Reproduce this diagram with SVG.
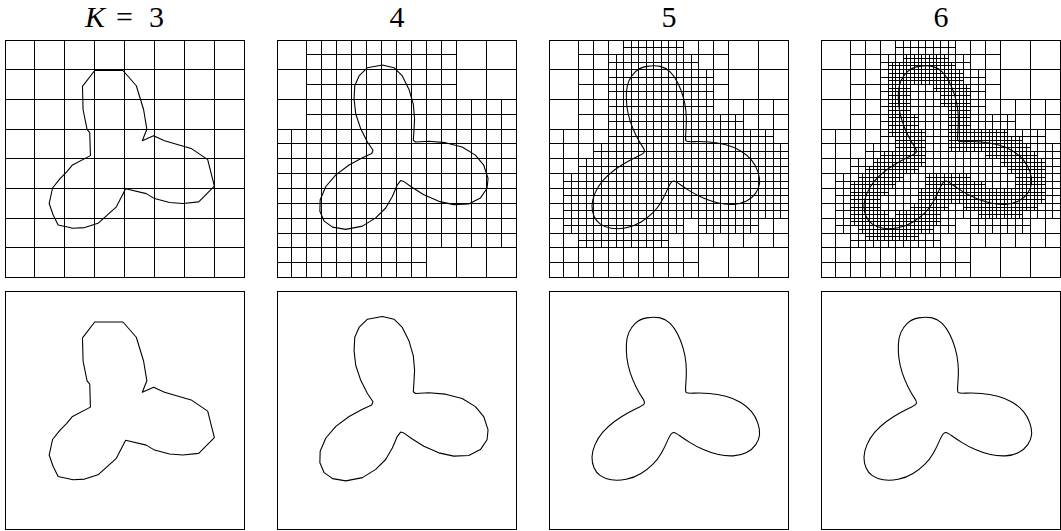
<svg xmlns="http://www.w3.org/2000/svg" width="1061" height="531" viewBox="0 0 1061 531">
<style>
.g{fill:none;stroke:#000;stroke-width:1;shape-rendering:crispEdges}
.c{fill:none;stroke:#000;stroke-width:1.1;stroke-linejoin:round}
.t{font-family:'Liberation Serif','DejaVu Serif',serif;font-size:30px;fill:#000}
</style>
<defs>
<clipPath id="r3"><path d="M30 0h150v60h-150zM30 60h210v30h-210zM0 90h240v120h-240zM0 210h150v30h-150z"/></clipPath>
<clipPath id="r4"><path d="M15 135h15v60h-15zM30 120h15v90h-15zM45 105h15v105h-15zM60 15h15v195h-15zM75 0h45v210h-45zM120 0h15v195h-15zM135 15h15v165h-15zM150 30h15v165h-15zM165 75h30v120h-30zM195 90h15v105h-15zM210 90h15v90h-15zM225 105h15v75h-15z"/></clipPath>
<clipPath id="r5"><path transform="scale(7.5)" d="M4 19h3v6h-3zM5 18h3v4h-3zM5 22h3v4h-3zM6 17h3v4h-3zM6 23h3v4h-3zM7 16h3v4h-3zM7 24h3v3h-3zM8 15h3v4h-3zM8 24h3v3h-3zM9 3h3v10h-3zM9 15h3v3h-3zM9 24h3v3h-3zM10 3h3v3h-3zM10 10h3v5h-3zM10 14h3v4h-3zM10 23h3v4h-3zM11 2h3v4h-3zM11 12h3v5h-3zM11 23h3v3h-3zM12 2h3v3h-3zM12 22h3v4h-3zM13 2h3v3h-3zM13 20h3v5h-3zM14 2h3v4h-3zM14 18h3v5h-3zM15 3h3v4h-3zM15 18h3v3h-3zM16 4h3v5h-3zM16 18h3v3h-3zM17 6h3v9h-3zM17 18h3v4h-3zM18 12h6v3h-6zM18 19h3v3h-3zM19 19h3v4h-3zM20 20h3v3h-3zM21 20h3v4h-3zM22 12h3v4h-3zM22 21h3v3h-3zM23 13h3v3h-3zM23 21h3v3h-3zM24 13h3v4h-3zM24 20h3v4h-3zM25 14h3v4h-3zM25 20h3v3h-3zM26 15h3v4h-3zM26 19h3v4h-3zM27 16h3v6h-3z"/></clipPath>
<path id="l3" d="M30 0V240M60 0V240M90 0V240M120 0V240M150 0V240M180 0V240M210 0V240M0 30H240M0 60H240M0 90H240M0 120H240M0 150H240M0 180H240M0 210H240"/>
<path id="l4" d="M15 0V240M45 0V240M75 0V240M105 0V240M135 0V240M165 0V240M195 0V240M225 0V240M0 15H240M0 45H240M0 75H240M0 105H240M0 135H240M0 165H240M0 195H240M0 225H240"/>
<path id="l5" d="M7.5 0V240M22.5 0V240M37.5 0V240M52.5 0V240M67.5 0V240M82.5 0V240M97.5 0V240M112.5 0V240M127.5 0V240M142.5 0V240M157.5 0V240M172.5 0V240M187.5 0V240M202.5 0V240M217.5 0V240M232.5 0V240M0 7.5H240M0 22.5H240M0 37.5H240M0 52.5H240M0 67.5H240M0 82.5H240M0 97.5H240M0 112.5H240M0 127.5H240M0 142.5H240M0 157.5H240M0 172.5H240M0 187.5H240M0 202.5H240M0 217.5H240M0 232.5H240"/>
<path id="l6" d="M3.75 0V240M11.25 0V240M18.75 0V240M26.25 0V240M33.75 0V240M41.25 0V240M48.75 0V240M56.25 0V240M63.75 0V240M71.25 0V240M78.75 0V240M86.25 0V240M93.75 0V240M101.25 0V240M108.75 0V240M116.25 0V240M123.75 0V240M131.25 0V240M138.75 0V240M146.25 0V240M153.75 0V240M161.25 0V240M168.75 0V240M176.25 0V240M183.75 0V240M191.25 0V240M198.75 0V240M206.25 0V240M213.75 0V240M221.25 0V240M228.75 0V240M236.25 0V240M0 3.75H240M0 11.25H240M0 18.75H240M0 26.25H240M0 33.75H240M0 41.25H240M0 48.75H240M0 56.25H240M0 63.75H240M0 71.25H240M0 78.75H240M0 86.25H240M0 93.75H240M0 101.25H240M0 108.75H240M0 116.25H240M0 123.75H240M0 131.25H240M0 138.75H240M0 146.25H240M0 153.75H240M0 161.25H240M0 168.75H240M0 176.25H240M0 183.75H240M0 191.25H240M0 198.75H240M0 206.25H240M0 213.75H240M0 221.25H240M0 228.75H240M0 236.25H240"/>
<path id="cv3" d="M90 30.8L118.3 30.8L131.7 46.2L139 70.2L142.3 90.2L137.7 101.8L149 96.8L160 101.8L186.7 109.5L203.3 120.8L210 147.5L194.3 163.5L178.3 165.2L165 164.2L150 160.2L141.7 155.2L121 150.2L111.7 168.5L93.3 185.2L80 189.5L68.3 190.2L53.3 186.8L48.3 176.8L44.3 165.2L47.7 149.5L55 140.2L61.7 133.5L67.7 126.2L85.7 116.8L85 93.5L82.3 90.2L78.3 70.2L77.7 46.8Z"/>
<path id="cv4" d="M96.3 111.3L90.7 103L84 89.7L79 74.7L77.3 59.7L78 46.3L82.3 36.3L90.7 28L105.7 25.3L117.3 28L125.7 36.3L132.3 49.7L136.7 64.7L138 79.7L137.3 93L136.7 101.3L139 103L152.3 102.3L169 103.7L185.7 108L199 116.3L207.3 126.3L211.7 139.7L210.7 149.7L204 159.7L192.3 165.7L177.3 166.3L162.3 163L147.3 156.3L135.7 149L127.3 143L124 142L120.7 146.3L115.7 158L109 169.7L99 179.7L85.7 188L69 191.3L55.7 189L47.3 183L43 173L43.3 161.3L49 148L59 136.3L72.3 126.3L85.7 119L95 114.7Z"/>
<path id="cv6" d="M95.65 113Q96.3 111.3 93.5 107.15Q90.7 103 87.35 96.35Q84 89.7 81.5 82.2Q79 74.7 78.15 67.2Q77.3 59.7 77.65 53Q78 46.3 80.15 41.3Q82.3 36.3 86.5 32.15Q90.7 28 98.2 26.65Q105.7 25.3 111.5 26.65Q117.3 28 121.5 32.15Q125.7 36.3 129 43Q132.3 49.7 134.5 57.2Q136.7 64.7 137.35 72.2Q138 79.7 137.65 86.35Q137.3 93 137 97.15Q136.7 101.3 137.85 102.15Q139 103 145.65 102.65Q152.3 102.3 160.65 103Q169 103.7 177.35 105.85Q185.7 108 192.35 112.15Q199 116.3 203.15 121.3Q207.3 126.3 209.5 133Q211.7 139.7 211.2 144.7Q210.7 149.7 207.35 154.7Q204 159.7 198.15 162.7Q192.3 165.7 184.8 166Q177.3 166.3 169.8 164.65Q162.3 163 154.8 159.65Q147.3 156.3 141.5 152.65Q135.7 149 131.5 146Q127.3 143 125.65 142.5Q124 142 122.35 144.15Q120.7 146.3 118.2 152.15Q115.7 158 112.35 163.85Q109 169.7 104 174.7Q99 179.7 92.35 183.85Q85.7 188 77.35 189.65Q69 191.3 62.35 190.15Q55.7 189 51.5 186Q47.3 183 45.15 178Q43 173 43.15 167.15Q43.3 161.3 46.15 154.65Q49 148 54 142.15Q59 136.3 65.65 131.3Q72.3 126.3 79 122.65Q85.7 119 90.35 116.85Q95 114.7 95.65 113Z"/>
</defs>
<g id="titles" class="t" font-family="Liberation Serif, DejaVu Serif, serif" font-size="30">
<text y="27" font-family="Liberation Serif, DejaVu Serif, serif"><tspan x="85" font-style="italic">K</tspan><tspan x="116">=</tspan><tspan x="149">3</tspan></text>
<text x="397" y="27" text-anchor="middle" font-family="Liberation Serif, DejaVu Serif, serif">4</text>
<text x="669" y="27" text-anchor="middle" font-family="Liberation Serif, DejaVu Serif, serif">5</text>
<text x="941" y="27" text-anchor="middle" font-family="Liberation Serif, DejaVu Serif, serif">6</text>
</g>
<g id="k3-mesh" transform="translate(5 40) scale(0.997 0.99)">
<g class="g"><rect width="240" height="240"/><use href="#l3"/></g>
<use href="#cv3" class="c"/>
</g>
<g id="k4-mesh" transform="translate(277 40) scale(0.997 0.99)">
<g class="g"><rect width="240" height="240"/><use href="#l3"/><use href="#l4" clip-path="url(#r3)"/></g>
<use href="#cv4" class="c"/>
</g>
<g id="k5-mesh" transform="translate(549 40) scale(0.997 0.99)">
<g class="g"><rect width="240" height="240"/><use href="#l3"/><use href="#l4" clip-path="url(#r3)"/><use href="#l5" clip-path="url(#r4)"/></g>
<use href="#cv6" class="c"/>
</g>
<g id="k6-mesh" transform="translate(821 40) scale(0.997 0.99)">
<g class="g"><rect width="240" height="240"/><use href="#l3"/><use href="#l4" clip-path="url(#r3)"/><use href="#l5" clip-path="url(#r4)"/><use href="#l6" clip-path="url(#r5)"/></g>
<use href="#cv6" class="c"/>
</g>
<g id="k3-shape" transform="translate(5 291.5) scale(0.997 0.99)">
<rect class="g" width="240" height="240"/>
<use href="#cv3" class="c"/>
</g>
<g id="k4-shape" transform="translate(277 291.5) scale(0.997 0.99)">
<rect class="g" width="240" height="240"/>
<use href="#cv4" class="c"/>
</g>
<g id="k5-shape" transform="translate(549 291.5) scale(0.997 0.99)">
<rect class="g" width="240" height="240"/>
<use href="#cv6" class="c"/>
</g>
<g id="k6-shape" transform="translate(821 291.5) scale(0.997 0.99)">
<rect class="g" width="240" height="240"/>
<use href="#cv6" class="c"/>
</g>
</svg>
